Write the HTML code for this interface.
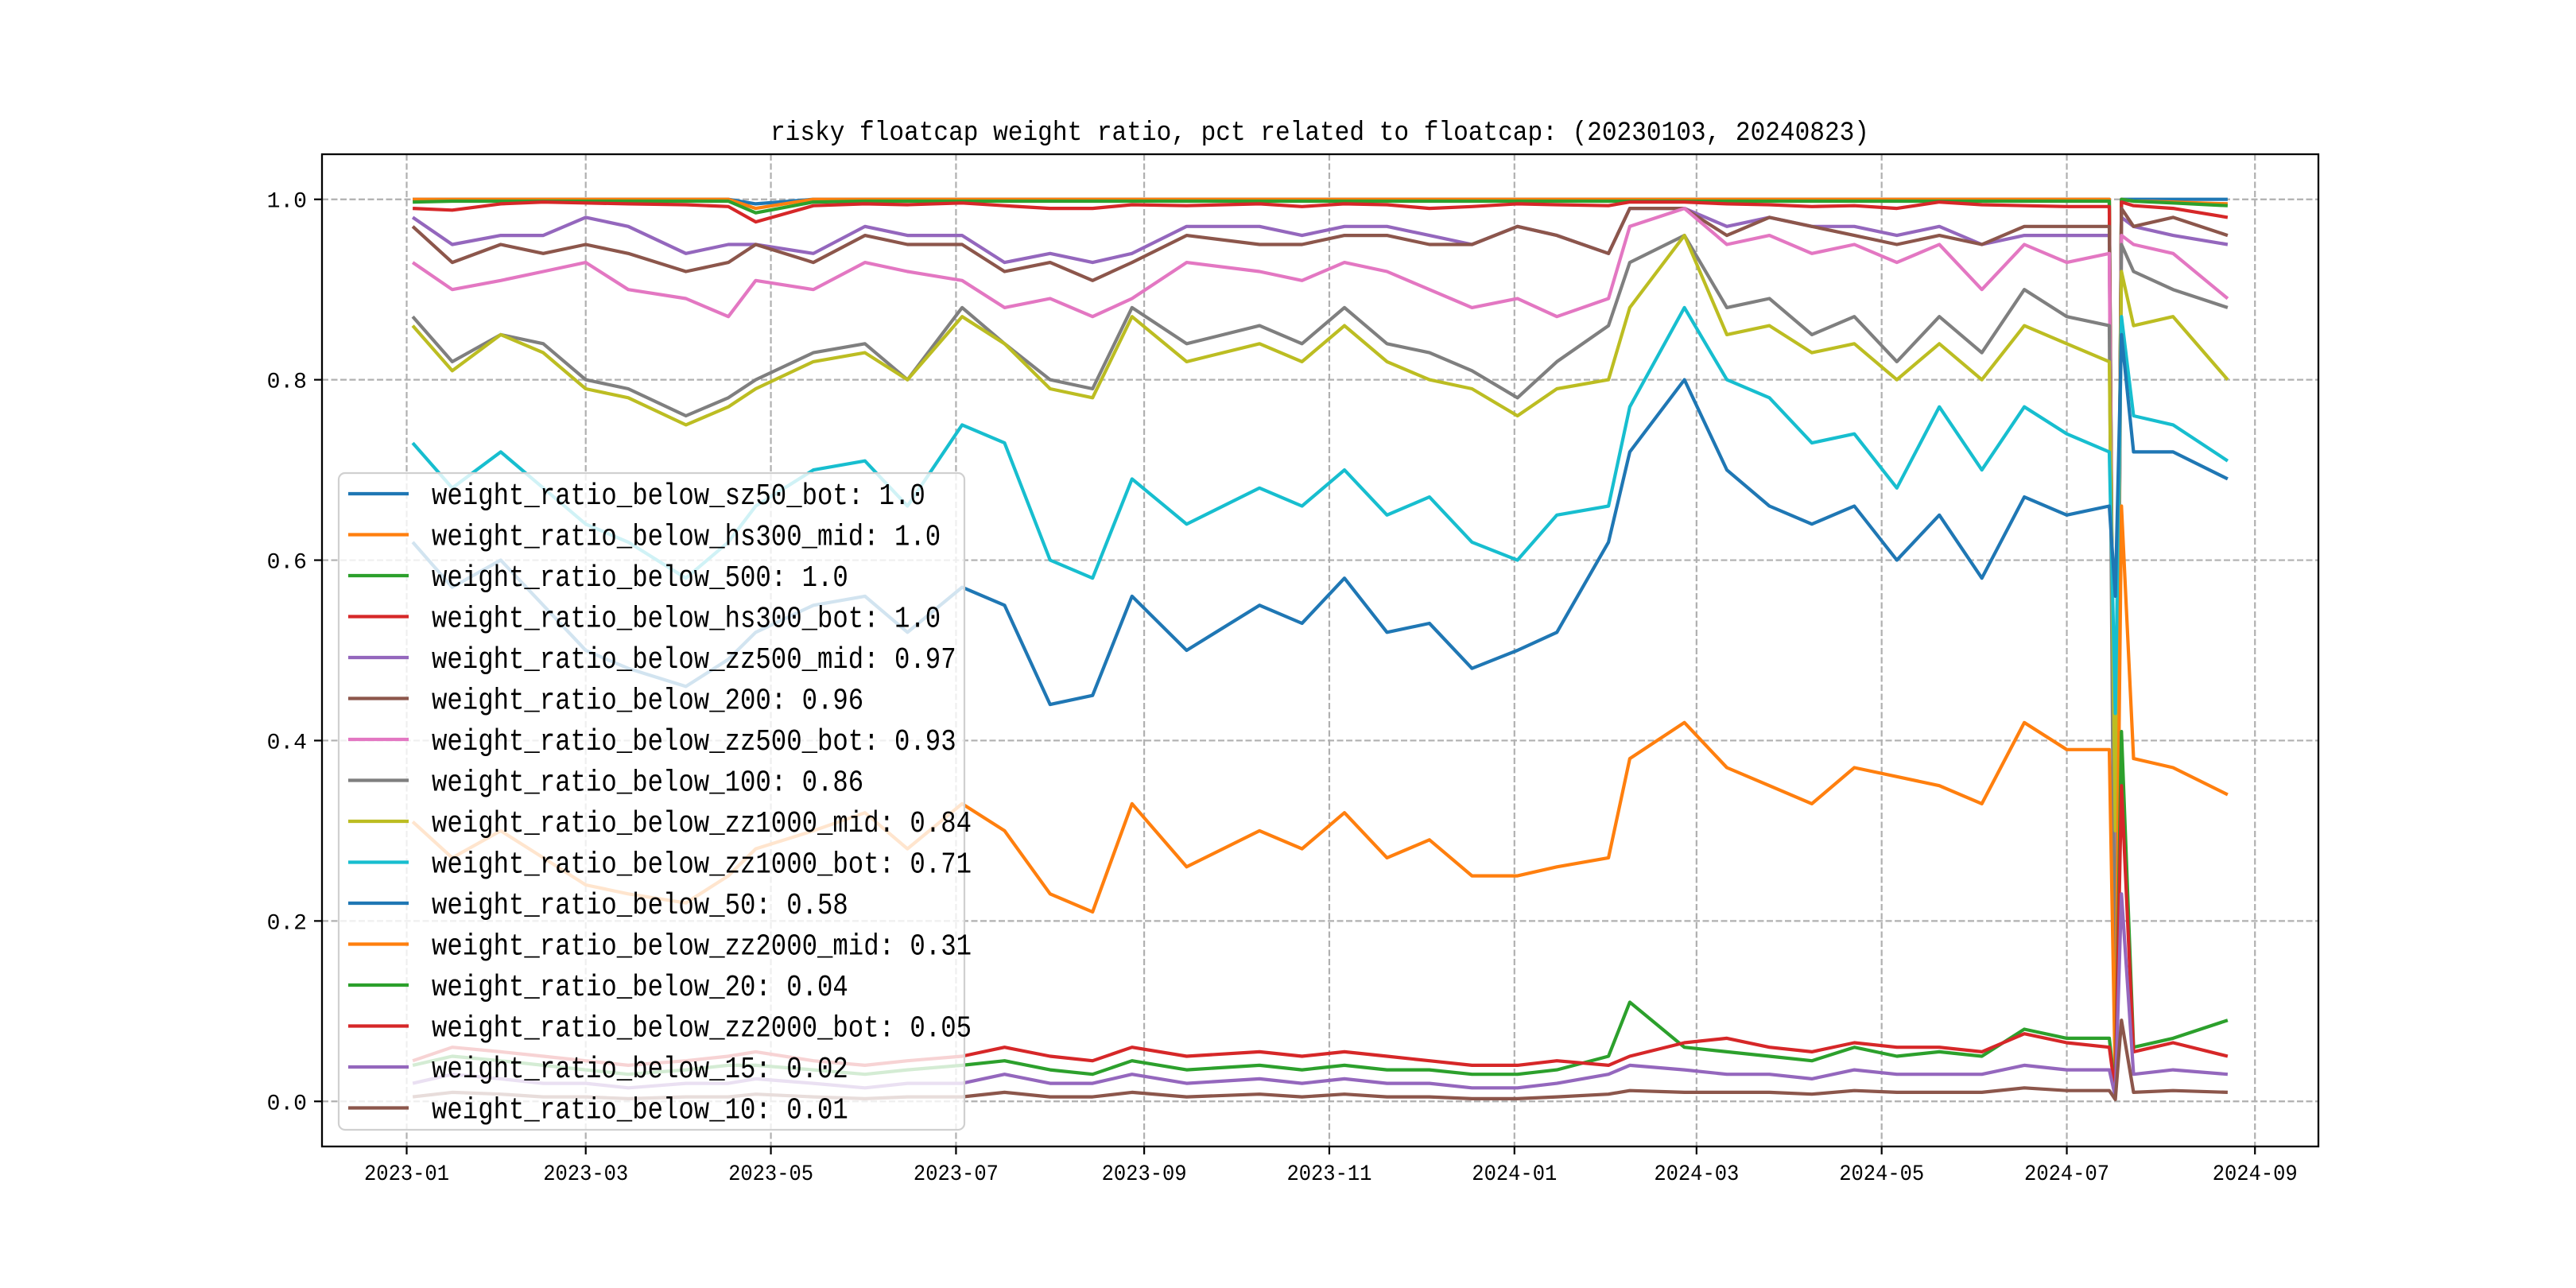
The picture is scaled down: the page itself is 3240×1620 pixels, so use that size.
<!DOCTYPE html>
<html><head><meta charset="utf-8">
<style>
html,body{margin:0;padding:0;background:#fff;}
svg{display:block;}
text{font-family:"Liberation Mono","WenQuanYi Zen Hei",monospace;fill:#000;}
</style></head>
<body>
<svg id="chart" width="3240" height="1620" viewBox="0 0 3240 1620" xmlns="http://www.w3.org/2000/svg">
<rect width="3240" height="1620" fill="#fff"/>
<text x="1660" y="176" font-size="34" text-anchor="middle" textLength="1382" lengthAdjust="spacingAndGlyphs">risky floatcap weight ratio, pct related to floatcap: (20230103, 20240823)</text>
<g id="grid"></g>
<g id="series"></g>
<rect x="405" y="194" width="2511" height="1248" fill="none" stroke="#000" stroke-width="2.3"/>
<g id="ticks"></g>
<g id="legend"></g>
</svg>
<script>
const dates=["2023-01-03","2023-01-16","2023-02-01","2023-02-15","2023-03-01","2023-03-15","2023-04-03","2023-04-17","2023-04-26","2023-05-15","2023-06-01","2023-06-15","2023-07-03","2023-07-17","2023-08-01","2023-08-15","2023-08-28","2023-09-15","2023-10-09","2023-10-23","2023-11-06","2023-11-20","2023-12-04","2023-12-18","2024-01-02","2024-01-15","2024-02-01","2024-02-08","2024-02-26","2024-03-11","2024-03-25","2024-04-08","2024-04-22","2024-05-06","2024-05-20","2024-06-03","2024-06-17","2024-07-01","2024-07-15","2024-07-17","2024-07-19","2024-07-23","2024-08-05","2024-08-23"];
const sz50Bot=[1,1,1,1,1,1,1,1,0.995,1,1,1,1,1,1,1,1,1,1,1,1,1,1,1,1,1,1,1,1,1,1,1,1,1,1,1,1,1,1,0.05,1,1,1,1];
const hs300Mid=[1,1,1,1,1,1,1,1,0.99,1,1,1,1,1,1,1,1,1,1,1,1,1,1,1,1,1,1,1,1,1,1,1,1,1,1,1,1,1,1,0.05,1,0.998,0.997,0.995];
const below500=[0.997,0.998,0.998,0.998,0.998,0.998,0.998,0.998,0.985,0.997,0.998,0.998,0.998,0.998,0.998,0.998,0.998,0.998,0.998,0.998,0.998,0.998,0.998,0.998,0.998,0.998,0.998,0.998,0.998,0.998,0.998,0.998,0.998,0.998,0.998,0.998,0.998,0.998,0.998,0.1,1,0.998,0.996,0.993];
const hs300Bot=[0.99,0.988,0.995,0.997,0.996,0.995,0.994,0.992,0.975,0.993,0.995,0.994,0.996,0.993,0.99,0.99,0.994,0.993,0.995,0.992,0.995,0.994,0.99,0.992,0.995,0.994,0.993,0.997,0.997,0.995,0.994,0.992,0.993,0.99,0.997,0.994,0.993,0.992,0.992,0.05,0.997,0.993,0.99,0.98];
const zz500Mid=[0.98,0.95,0.96,0.96,0.98,0.97,0.94,0.95,0.95,0.94,0.97,0.96,0.96,0.93,0.94,0.93,0.94,0.97,0.97,0.96,0.97,0.97,0.96,0.95,0.97,0.96,0.94,0.99,0.99,0.97,0.98,0.97,0.97,0.96,0.97,0.95,0.96,0.96,0.96,0.02,0.98,0.97,0.96,0.95];
const below200=[0.97,0.93,0.95,0.94,0.95,0.94,0.92,0.93,0.95,0.93,0.96,0.95,0.95,0.92,0.93,0.91,0.93,0.96,0.95,0.95,0.96,0.96,0.95,0.95,0.97,0.96,0.94,0.99,0.99,0.96,0.98,0.97,0.96,0.95,0.96,0.95,0.97,0.97,0.97,0.01,0.99,0.97,0.98,0.96];
const zz500Bot=[0.93,0.9,0.91,0.92,0.93,0.9,0.89,0.87,0.91,0.9,0.93,0.92,0.91,0.88,0.89,0.87,0.89,0.93,0.92,0.91,0.93,0.92,0.9,0.88,0.89,0.87,0.89,0.97,0.99,0.95,0.96,0.94,0.95,0.93,0.95,0.9,0.95,0.93,0.94,0.05,0.96,0.95,0.94,0.89];
const below100=[0.87,0.82,0.85,0.84,0.8,0.79,0.76,0.78,0.8,0.83,0.84,0.8,0.88,0.84,0.8,0.79,0.88,0.84,0.86,0.84,0.88,0.84,0.83,0.81,0.78,0.82,0.86,0.93,0.96,0.88,0.89,0.85,0.87,0.82,0.87,0.83,0.9,0.87,0.86,0.03,0.95,0.92,0.9,0.88];
const zz1000Mid=[0.86,0.81,0.85,0.83,0.79,0.78,0.75,0.77,0.79,0.82,0.83,0.8,0.87,0.84,0.79,0.78,0.87,0.82,0.84,0.82,0.86,0.82,0.8,0.79,0.76,0.79,0.8,0.88,0.96,0.85,0.86,0.83,0.84,0.8,0.84,0.8,0.86,0.84,0.82,0.3,0.92,0.86,0.87,0.8];
const zz1000Bot=[0.73,0.68,0.72,0.68,0.64,0.62,0.58,0.62,0.66,0.7,0.71,0.66,0.75,0.73,0.6,0.58,0.69,0.64,0.68,0.66,0.7,0.65,0.67,0.62,0.6,0.65,0.66,0.77,0.88,0.8,0.78,0.73,0.74,0.68,0.77,0.7,0.77,0.74,0.72,0.43,0.87,0.76,0.75,0.71];
const below50=[0.62,0.57,0.6,0.55,0.5,0.48,0.46,0.49,0.52,0.55,0.56,0.52,0.57,0.55,0.44,0.45,0.56,0.5,0.55,0.53,0.58,0.52,0.53,0.48,0.5,0.52,0.62,0.72,0.8,0.7,0.66,0.64,0.66,0.6,0.65,0.58,0.67,0.65,0.66,0.56,0.85,0.72,0.72,0.69];
const zz2000Mid=[0.31,0.27,0.3,0.27,0.24,0.23,0.22,0.25,0.28,0.3,0.32,0.28,0.33,0.3,0.23,0.21,0.33,0.26,0.3,0.28,0.32,0.27,0.29,0.25,0.25,0.26,0.27,0.38,0.42,0.37,0.35,0.33,0.37,0.36,0.35,0.33,0.42,0.39,0.39,0.02,0.66,0.38,0.37,0.34];
const below20=[0.04,0.05,0.045,0.04,0.035,0.03,0.035,0.04,0.04,0.035,0.03,0.035,0.04,0.045,0.035,0.03,0.045,0.035,0.04,0.035,0.04,0.035,0.035,0.03,0.03,0.035,0.05,0.11,0.06,0.055,0.05,0.045,0.06,0.05,0.055,0.05,0.08,0.07,0.07,0.01,0.41,0.06,0.07,0.09];
const zz2000Bot=[0.045,0.06,0.055,0.05,0.045,0.04,0.045,0.05,0.055,0.045,0.04,0.045,0.05,0.06,0.05,0.045,0.06,0.05,0.055,0.05,0.055,0.05,0.045,0.04,0.04,0.045,0.04,0.05,0.065,0.07,0.06,0.055,0.065,0.06,0.06,0.055,0.075,0.065,0.06,0.01,0.35,0.055,0.065,0.05];
const below15=[0.02,0.03,0.025,0.02,0.02,0.015,0.02,0.02,0.025,0.02,0.015,0.02,0.02,0.03,0.02,0.02,0.03,0.02,0.025,0.02,0.025,0.02,0.02,0.015,0.015,0.02,0.03,0.04,0.035,0.03,0.03,0.025,0.035,0.03,0.03,0.03,0.04,0.035,0.035,0.005,0.23,0.03,0.035,0.03];
const below10=[0.005,0.01,0.008,0.005,0.005,0.003,0.005,0.005,0.008,0.005,0.003,0.005,0.005,0.01,0.005,0.005,0.01,0.005,0.008,0.005,0.008,0.005,0.005,0.003,0.003,0.005,0.008,0.012,0.01,0.01,0.01,0.008,0.012,0.01,0.01,0.01,0.015,0.012,0.012,0.002,0.09,0.01,0.012,0.01];
const seriesNames=["weight_ratio_below_sz50_bot","weight_ratio_below_hs300_mid","weight_ratio_below_500","weight_ratio_below_hs300_bot","weight_ratio_below_zz500_mid","weight_ratio_below_200","weight_ratio_below_zz500_bot","weight_ratio_below_100","weight_ratio_below_zz1000_mid","weight_ratio_below_zz1000_bot","weight_ratio_below_50","weight_ratio_below_zz2000_mid","weight_ratio_below_20","weight_ratio_below_zz2000_bot","weight_ratio_below_15","weight_ratio_below_10"];
const legendValues=["1.0","1.0","1.0","1.0","0.97","0.96","0.93","0.86","0.84","0.71","0.58","0.31","0.04","0.05","0.02","0.01"];
const yTicks=[0,0.2,0.4,0.6,0.8,1.0];
const yTickLabels=["0.0","0.2","0.4","0.6","0.8","1.0"];
const xTicks=["2023-01-01","2023-03-01","2023-05-01","2023-07-01","2023-09-01","2023-11-01","2024-01-01","2024-03-01","2024-05-01","2024-07-01","2024-09-01"];
const xTickLabels=["2023-01","2023-03","2023-05","2023-07","2023-09","2023-11","2024-01","2024-03","2024-05","2024-07","2024-09"];

const allSeries=[sz50Bot,hs300Mid,below500,hs300Bot,zz500Mid,below200,zz500Bot,below100,zz1000Mid,zz1000Bot,below50,zz2000Mid,below20,zz2000Bot,below15,below10];
const colors=["#1f77b4","#ff7f0e","#2ca02c","#d62728","#9467bd","#8c564b","#e377c2","#7f7f7f","#bcbd22","#17becf"];
const NS="http://www.w3.org/2000/svg";
const X0=405,X1=2916,Y0=194,Y1=1442;
const dayMs=86400000;
const t0=Date.parse(dates[0]),tN=Date.parse(dates[dates.length-1]);
const span=tN-t0, xMin=t0-span*0.05, xMax=tN+span*0.05;
const yMin=-0.05,yMax=1.05;
function xs(d){return X0+(Date.parse(d)-xMin)/(xMax-xMin)*(X1-X0);}
function ys(v){return Y1-(v-yMin)/(yMax-yMin)*(Y1-Y0);}
function mk(tag,attrs,parent){const e=document.createElementNS(NS,tag);for(const k in attrs)e.setAttribute(k,attrs[k]);parent.appendChild(e);return e;}

const grid=document.getElementById('grid'),ticks=document.getElementById('ticks');
yTicks.forEach((v,i)=>{
  const y=ys(v);
  const g=mk('line',{x1:X0,x2:X1,y1:y,y2:y,stroke:'#b0b0b0','stroke-width':2.2,'stroke-dasharray':'8,3.5'},grid);
  
  
  const t=mk('line',{x1:X0-10,x2:X0,y1:y,y2:y,stroke:'#000','stroke-width':2.2},ticks);
  
  
  const l=mk('text',{x:X0-19,y:y+10,'font-size':28,'text-anchor':'end'},ticks);
  l.textContent=yTickLabels[i];
  
  
});
xTicks.forEach((d,i)=>{
  const x=xs(d);
  const g=mk('line',{x1:x,x2:x,y1:Y0,y2:Y1,stroke:'#b0b0b0','stroke-width':2.2,'stroke-dasharray':'8,3.5'},grid);
  
  
  const t=mk('line',{x1:x,x2:x,y1:Y1,y2:Y1+10,stroke:'#000','stroke-width':2.2},ticks);
  
  
  const l=mk('text',{x:x,y:Y1+42,'font-size':28,'text-anchor':'middle',textLength:107,lengthAdjust:'spacingAndGlyphs'},ticks);
  l.textContent=xTickLabels[i];
  
  
});

const sg=document.getElementById('series');
allSeries.forEach((vals,si)=>{
  const pts=vals.map((v,i)=>xs(dates[i]).toFixed(1)+','+ys(v).toFixed(1)).join(' ');
  const p=mk('polyline',{points:pts,fill:'none',stroke:colors[si%10],'stroke-width':4.2,'stroke-linejoin':'round'},sg);
  
  
});

const lg=document.getElementById('legend');
const box=mk('rect',{x:426,y:595,width:787,height:826,rx:8,fill:'#fff','fill-opacity':0.8,stroke:'#d0d0d0','stroke-width':2.2},lg);


seriesNames.forEach((n,i)=>{
  const cy=621+i*51.5;
  const ln=mk('line',{x1:438,x2:514,y1:cy,y2:cy,stroke:colors[i%10],'stroke-width':4.2},lg);
  
  
  const label=n+': '+legendValues[i];
  const t=mk('text',{x:543,y:cy+13,'font-size':38,textLength:(label.length*19.4).toFixed(1),lengthAdjust:'spacingAndGlyphs'},lg);
  t.textContent=label;
  
  
});
</script>
</body></html>
